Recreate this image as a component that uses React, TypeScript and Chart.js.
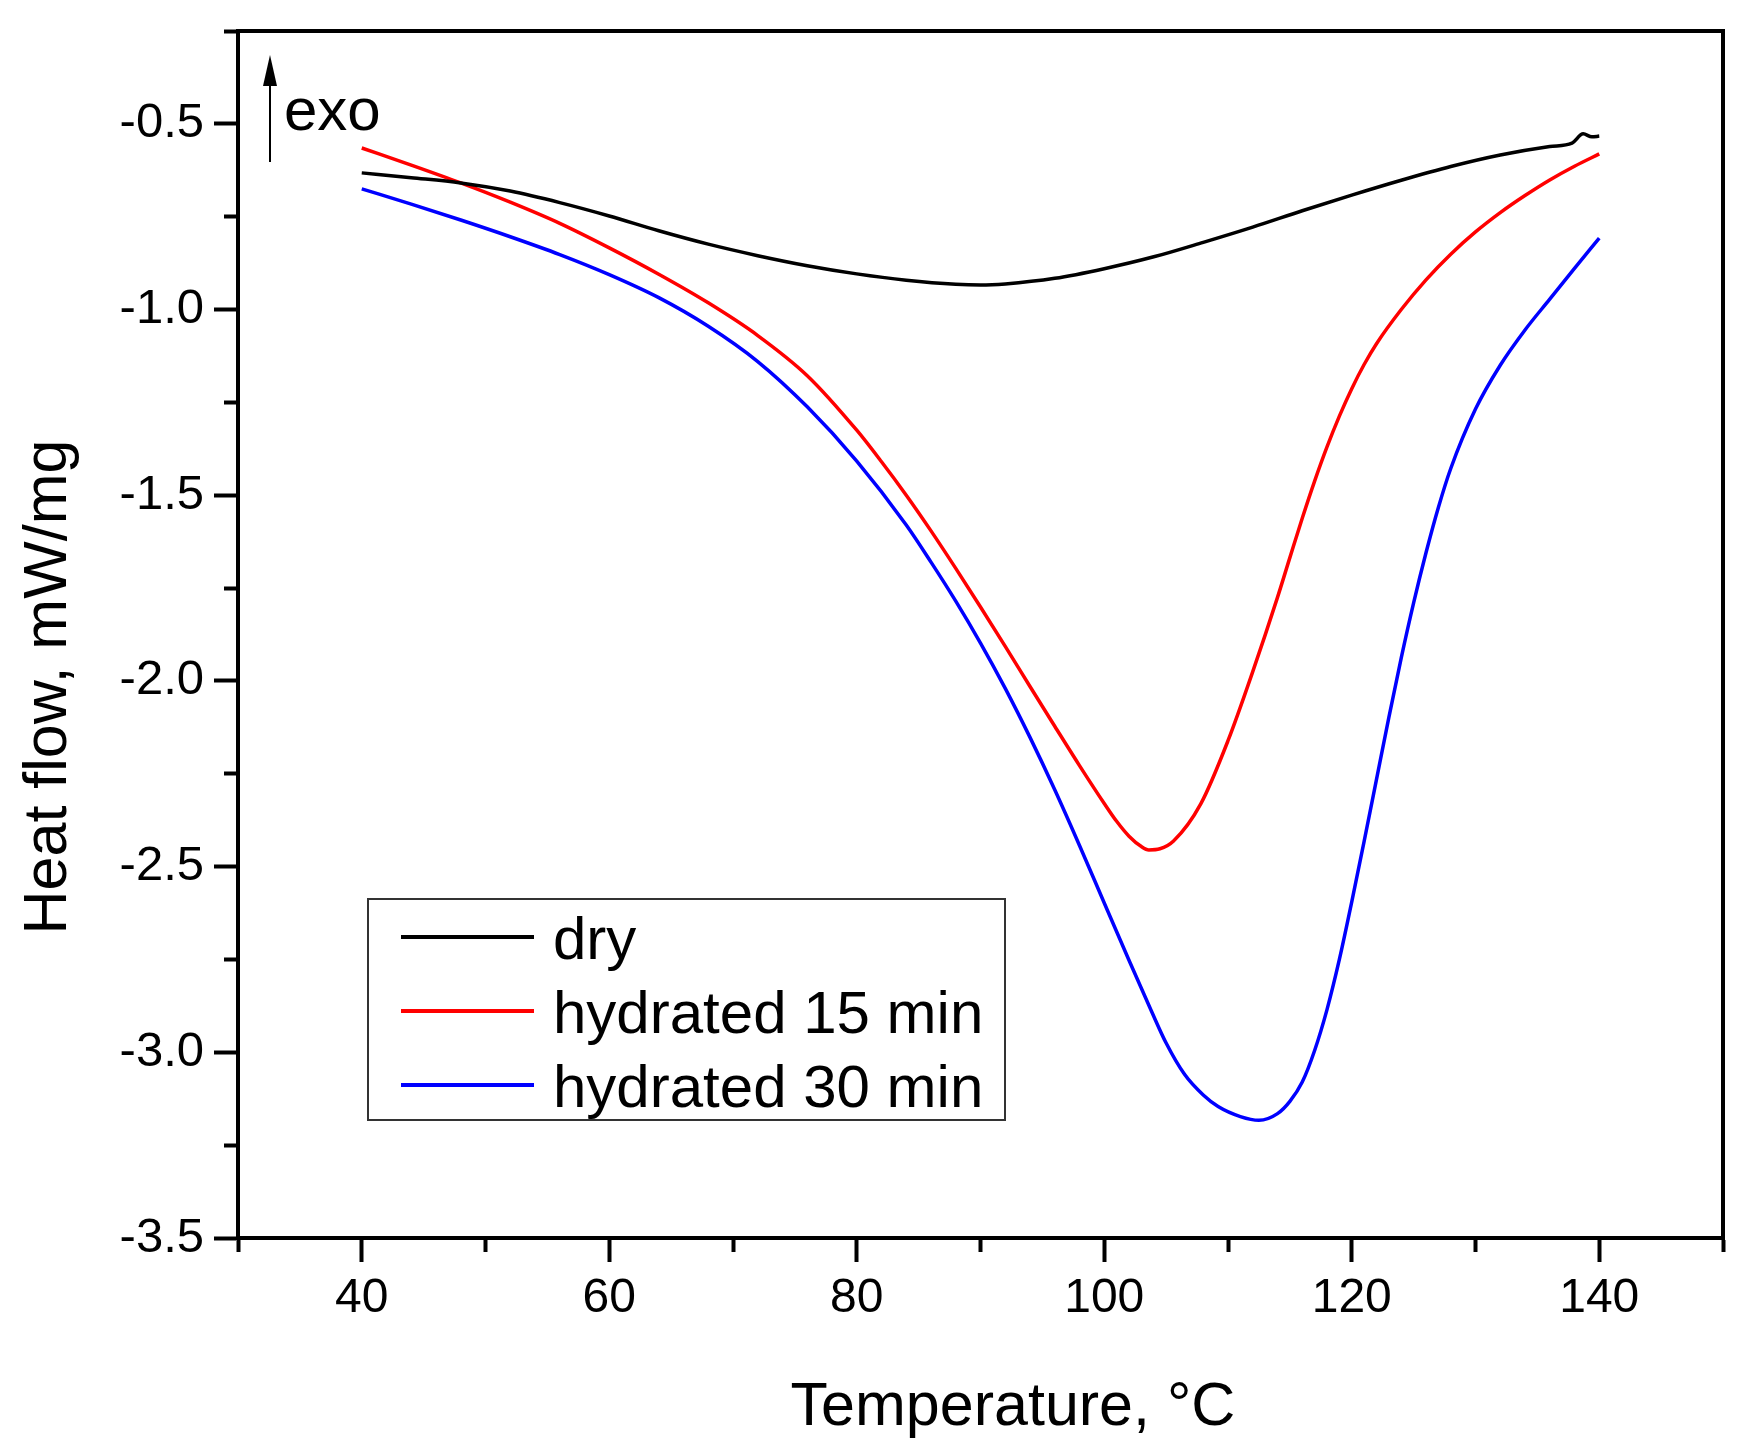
import React, { useEffect, useRef } from 'react';
import { Chart, registerables } from 'chart.js';

Chart.register(...registerables);

// DSC curves (temperature in °C, heat flow in mW/mg)
const dryTemp = [40, 44, 48, 52, 56, 60, 64, 68, 72, 76, 80, 84, 88, 90, 92, 96, 100, 104, 108, 112, 116, 120, 124, 128, 132, 136, 137.8, 138.7, 139.4, 140];
const dryFlow = [-0.632, -0.645, -0.659, -0.681, -0.712, -0.748, -0.788, -0.824, -0.855, -0.882, -0.904, -0.921, -0.932, -0.934, -0.931, -0.916, -0.890, -0.858, -0.819, -0.778, -0.734, -0.692, -0.652, -0.615, -0.584, -0.561, -0.552, -0.527, -0.535, -0.533];

const wet15Temp = [40, 44, 48, 52, 56, 60, 64, 68, 72, 76, 80, 82, 84, 86, 88, 90, 92, 94, 96, 98, 100, 101, 102, 103, 103.6, 104.5, 105.6, 107.8, 110, 112, 114, 115, 116, 117, 118, 119, 120, 121, 122, 124, 126, 128, 130, 132, 134, 136, 138, 140];
const wet15Flow = [-0.565, -0.611, -0.659, -0.711, -0.768, -0.834, -0.905, -0.982, -1.070, -1.178, -1.325, -1.410, -1.500, -1.596, -1.697, -1.801, -1.907, -2.015, -2.122, -2.228, -2.330, -2.378, -2.418, -2.446, -2.455, -2.452, -2.431, -2.331, -2.161, -1.975, -1.775, -1.668, -1.562, -1.462, -1.370, -1.287, -1.213, -1.148, -1.092, -1.000, -0.920, -0.851, -0.791, -0.739, -0.693, -0.651, -0.614, -0.581];

const wet30Temp = [40, 44, 48, 52, 56, 60, 64, 68, 72, 76, 80, 84, 86, 88, 90, 92, 94, 96, 98, 100, 102, 103.8, 105, 106.5, 108, 109.2, 111, 112.5, 114, 115, 116, 117, 118, 119, 120, 121, 122, 123, 124, 125, 126, 127, 128, 130, 132, 134, 136, 138, 140];
const wet30Flow = [-0.675, -0.716, -0.759, -0.804, -0.852, -0.906, -0.968, -1.045, -1.140, -1.262, -1.408, -1.580, -1.680, -1.785, -1.898, -2.020, -2.152, -2.293, -2.443, -2.598, -2.752, -2.888, -2.975, -3.060, -3.115, -3.146, -3.173, -3.183, -3.165, -3.132, -3.080, -2.995, -2.885, -2.750, -2.595, -2.432, -2.265, -2.098, -1.938, -1.790, -1.655, -1.533, -1.428, -1.268, -1.150, -1.055, -0.972, -0.889, -0.808];

const seriesLabels = ['dry', 'hydrated 15 min', 'hydrated 30 min'];
const seriesColors = ['#000000', '#ff0000', '#0000ff'];

const xMajorTicks = [40, 60, 80, 100, 120, 140];
const yMajorTicks = [-0.5, -1.0, -1.5, -2.0, -2.5, -3.0, -3.5];

const xTitle = 'Temperature, °C';
const yTitle = 'Heat flow, mW/mg';
const exoLabel = 'exo';

const FONT = '"Liberation Sans", Arial, sans-serif';

const isMajorX = (v: number) => xMajorTicks.some((t) => Math.abs(t - v) < 1e-6);
const isMajorY = (v: number) => yMajorTicks.some((t) => Math.abs(t - v) < 1e-6);

// frame, axis titles, "exo" marker and the boxed legend
const decorPlugin = {
  id: 'decor',
  afterDraw(chart: any) {
    const { ctx, chartArea } = chart;
    const { left, top, right, bottom } = chartArea;
    ctx.save();

    ctx.strokeStyle = '#000';
    ctx.lineWidth = 4;
    ctx.strokeRect(left, top, right - left, bottom - top);

    // axis titles
    ctx.fillStyle = '#000';
    ctx.font = `61px ${FONT}`;
    ctx.textAlign = 'center';
    ctx.textBaseline = 'alphabetic';
    ctx.fillText(xTitle, left + 775, 1425);
    ctx.save();
    ctx.translate(66, top + 656);
    ctx.rotate(-Math.PI / 2);
    ctx.fillText(yTitle, 0, 0);
    ctx.restore();

    // exo arrow
    ctx.lineWidth = 2;
    ctx.beginPath();
    ctx.moveTo(left + 32, 162);
    ctx.lineTo(left + 32, 80);
    ctx.stroke();
    ctx.beginPath();
    ctx.moveTo(left + 32, 55);
    ctx.lineTo(left + 25, 86);
    ctx.lineTo(left + 39, 86);
    ctx.closePath();
    ctx.fill();
    ctx.font = `60px ${FONT}`;
    ctx.textAlign = 'left';
    ctx.fillText(exoLabel, left + 46, 130);

    // legend
    ctx.fillStyle = '#fff';
    ctx.fillRect(368, 899, 637, 221);
    ctx.strokeStyle = '#333';
    ctx.lineWidth = 2;
    ctx.strokeRect(368, 899, 637, 221);
    seriesLabels.forEach((label, i) => {
      const y = 937 + i * 74;
      ctx.strokeStyle = seriesColors[i];
      ctx.lineWidth = 4;
      ctx.beginPath();
      ctx.moveTo(401, y);
      ctx.lineTo(534, y);
      ctx.stroke();
      ctx.fillStyle = '#000';
      ctx.font = `60px ${FONT}`;
      ctx.fillText(label, 553, y + 22);
    });

    ctx.restore();
  },
};

const App: React.FC = () => {
  const chartRef = useRef<HTMLCanvasElement>(null);
  const chartInstanceRef = useRef<Chart | null>(null);

  useEffect(() => {
    document.body.style.margin = '0';
    if (!chartRef.current) return;
    const ctx = chartRef.current.getContext('2d');
    if (!ctx) return;

    if (chartInstanceRef.current) {
      chartInstanceRef.current.destroy();
    }

    const temps = [dryTemp, wet15Temp, wet30Temp];
    const flows = [dryFlow, wet15Flow, wet30Flow];

    chartInstanceRef.current = new Chart(ctx, {
      type: 'line',
      data: {
        datasets: seriesLabels.map((label, i) => ({
          label,
          data: temps[i].map((t, j) => ({ x: t, y: flows[i][j] })),
          borderColor: seriesColors[i],
          backgroundColor: seriesColors[i],
          borderWidth: 3.5,
          pointRadius: 0,
          cubicInterpolationMode: 'monotone' as const,
          fill: false,
        })),
      },
      options: {
        animation: false,
        responsive: true,
        maintainAspectRatio: false,
        layout: { padding: { left: 0, right: 23, top: 31, bottom: 0 } },
        plugins: {
          legend: { display: false },
          tooltip: { enabled: false },
        },
        scales: {
          x: {
            type: 'linear',
            min: 30,
            max: 150,
            afterFit: (scale: any) => {
              scale.height = 213;
              scale.paddingLeft = 0;
              scale.paddingRight = 0;
            },
            border: { display: true, color: '#000', width: 4 },
            grid: {
              drawOnChartArea: false,
              drawTicks: true,
              tickLength: 24,
              tickColor: '#000',
              tickWidth: 4,
              tickBorderDash: (c: any) => (isMajorX(c.tick.value) ? [] : [12, 100]),
            },
            ticks: {
              stepSize: 10,
              autoSkip: false,
              maxRotation: 0,
              padding: 8,
              color: '#000',
              font: { family: FONT, size: 48 },
              callback: (value: any) => (isMajorX(Number(value)) ? String(value) : ''),
            },
          },
          y: {
            type: 'linear',
            min: -3.5,
            max: -0.25,
            afterFit: (scale: any) => {
              scale.width = 238;
              scale.paddingTop = 0;
              scale.paddingBottom = 0;
            },
            border: { display: true, color: '#000', width: 4 },
            grid: {
              drawOnChartArea: false,
              drawTicks: true,
              tickLength: 24,
              tickColor: '#000',
              tickWidth: 4,
              tickBorderDash: (c: any) => (isMajorY(c.tick.value) ? [] : [0, 10, 12, 100]),
            },
            ticks: {
              stepSize: 0.25,
              autoSkip: false,
              padding: 10,
              color: '#000',
              font: { family: FONT, size: 49 },
              callback: (value: any) => (isMajorY(Number(value)) ? Number(value).toFixed(1) : ''),
            },
          },
        },
      },
      plugins: [decorPlugin],
    });

    return () => {
      if (chartInstanceRef.current) {
        chartInstanceRef.current.destroy();
        chartInstanceRef.current = null;
      }
    };
  }, []);

  return (
    <div style={{ width: '1746px', height: '1451px', position: 'relative', background: '#fff' }}>
      <canvas ref={chartRef}></canvas>
    </div>
  );
};

export default App;
